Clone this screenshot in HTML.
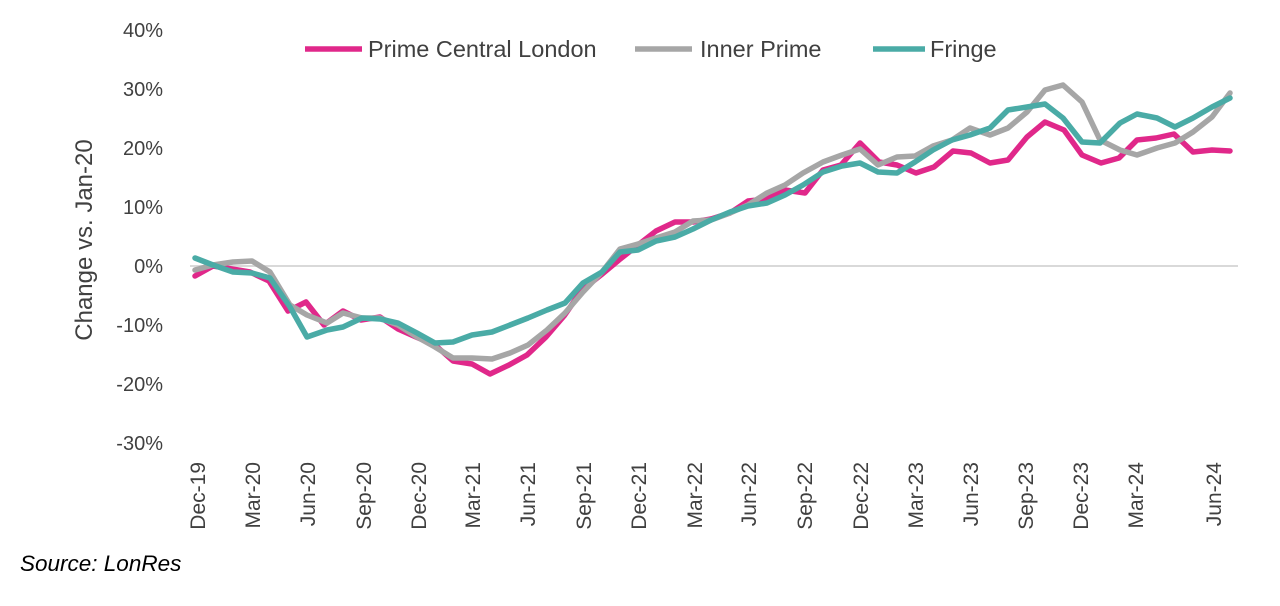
<!DOCTYPE html>
<html><head><meta charset="utf-8"><style>
body{margin:0;background:#fff;}
svg text{font-family:"Liberation Sans",sans-serif;fill:#404040;}
</style></head><body>
<svg width="1280" height="601" viewBox="0 0 1280 601" xmlns="http://www.w3.org/2000/svg">
<g font-size="20" text-anchor="end">
<text x="163" y="37">40%</text>
<text x="163" y="96">30%</text>
<text x="163" y="155">20%</text>
<text x="163" y="214">10%</text>
<text x="163" y="273">0%</text>
<text x="163" y="332">-10%</text>
<text x="163" y="391">-20%</text>
<text x="163" y="450">-30%</text>
</g>
<text transform="translate(92,240) rotate(-90)" font-size="24" text-anchor="middle">Change vs. Jan-20</text>
<line x1="190" y1="266" x2="1238" y2="266" stroke="#d9d9d9" stroke-width="2"/>
<g font-size="21" text-anchor="end">
<text transform="translate(205,462) rotate(-90)">Dec-19</text>
<text transform="translate(260,462) rotate(-90)">Mar-20</text>
<text transform="translate(315,462) rotate(-90)">Jun-20</text>
<text transform="translate(371,462) rotate(-90)">Sep-20</text>
<text transform="translate(426,462) rotate(-90)">Dec-20</text>
<text transform="translate(480,462) rotate(-90)">Mar-21</text>
<text transform="translate(535,462) rotate(-90)">Jun-21</text>
<text transform="translate(591,462) rotate(-90)">Sep-21</text>
<text transform="translate(646,462) rotate(-90)">Dec-21</text>
<text transform="translate(702,462) rotate(-90)">Mar-22</text>
<text transform="translate(756,462) rotate(-90)">Jun-22</text>
<text transform="translate(812,462) rotate(-90)">Sep-22</text>
<text transform="translate(868,462) rotate(-90)">Dec-22</text>
<text transform="translate(923,462) rotate(-90)">Mar-23</text>
<text transform="translate(978,462) rotate(-90)">Jun-23</text>
<text transform="translate(1033,462) rotate(-90)">Sep-23</text>
<text transform="translate(1088,462) rotate(-90)">Dec-23</text>
<text transform="translate(1143,462) rotate(-90)">Mar-24</text>
<text transform="translate(1221,462) rotate(-90)">Jun-24</text>
</g>
<g fill="none" stroke-width="5.5" stroke-linejoin="round" stroke-linecap="round">
<polyline stroke="#e0288a" points="195,276 213,266 232,269 250,272 269,281 288,311 306,302 324,325 343,311 361,320 380,317 398,329 416,337 435,345 453,361 472,364 490,374 509,365 527,355 546,337 564,316 582,290 601,275 619,260 638,245 656,231 675,222 693,222 711,219 730,213 748,201 767,199 785,190 805,193 823,170 841,165 860,143 879,162 897,165 916,173 934,167 953,151 971,153 990,163 1008,160 1027,137 1045,122 1064,130 1082,155 1101,163 1119,158 1137,140 1156,138 1174,134 1193,152 1212,150 1230,151"/>
<polyline stroke="#a6a6a6" points="195,270 213,265 233,262 252,261 270,272 290,305 307,315 327,323 343,313 362,318 380,318 398,325 417,337 435,347 453,358 472,358 492,359 510,353 528,345 547,330 565,313 583,292 602,272 620,249 638,244 656,238 675,232 693,221 711,220 730,213 748,205 767,193 785,185 803,173 823,162 842,155 860,149 878,165 897,157 915,156 933,146 952,140 970,128 990,135 1008,128 1027,112 1045,90 1063,85 1082,102 1100,140 1120,150 1137,155 1157,148 1175,143 1193,132 1212,117 1230,93"/>
<polyline stroke="#4aaba6" points="195,258 213,265 233,272 252,273 270,278 290,307 307,337 327,330 343,327 362,318 380,319 398,323 417,333 435,343 453,342 472,335 492,332 510,325 528,318 547,310 565,303 583,283 602,272 620,252 638,250 656,241 675,237 693,229 711,220 730,212 748,206 767,203 785,195 803,185 823,172 842,166 860,163 878,172 897,173 915,162 933,150 952,140 970,135 990,128 1008,110 1027,107 1045,104 1063,118 1082,142 1100,143 1120,123 1137,114 1157,118 1175,127 1193,118 1212,107 1230,98"/>
</g>
<g font-size="23.5">
<line x1="305" y1="49" x2="362" y2="49" stroke="#e0288a" stroke-width="5.5"/>
<text x="368" y="57">Prime Central London</text>
<line x1="635" y1="49" x2="692" y2="49" stroke="#a6a6a6" stroke-width="5.5"/>
<text x="700" y="57">Inner Prime</text>
<line x1="873" y1="49" x2="925" y2="49" stroke="#4aaba6" stroke-width="5.5"/>
<text x="930" y="57">Fringe</text>
</g>
<text x="20" y="571" font-size="22.5" font-style="italic" style="fill:#000">Source: LonRes</text>
</svg>
</body></html>
